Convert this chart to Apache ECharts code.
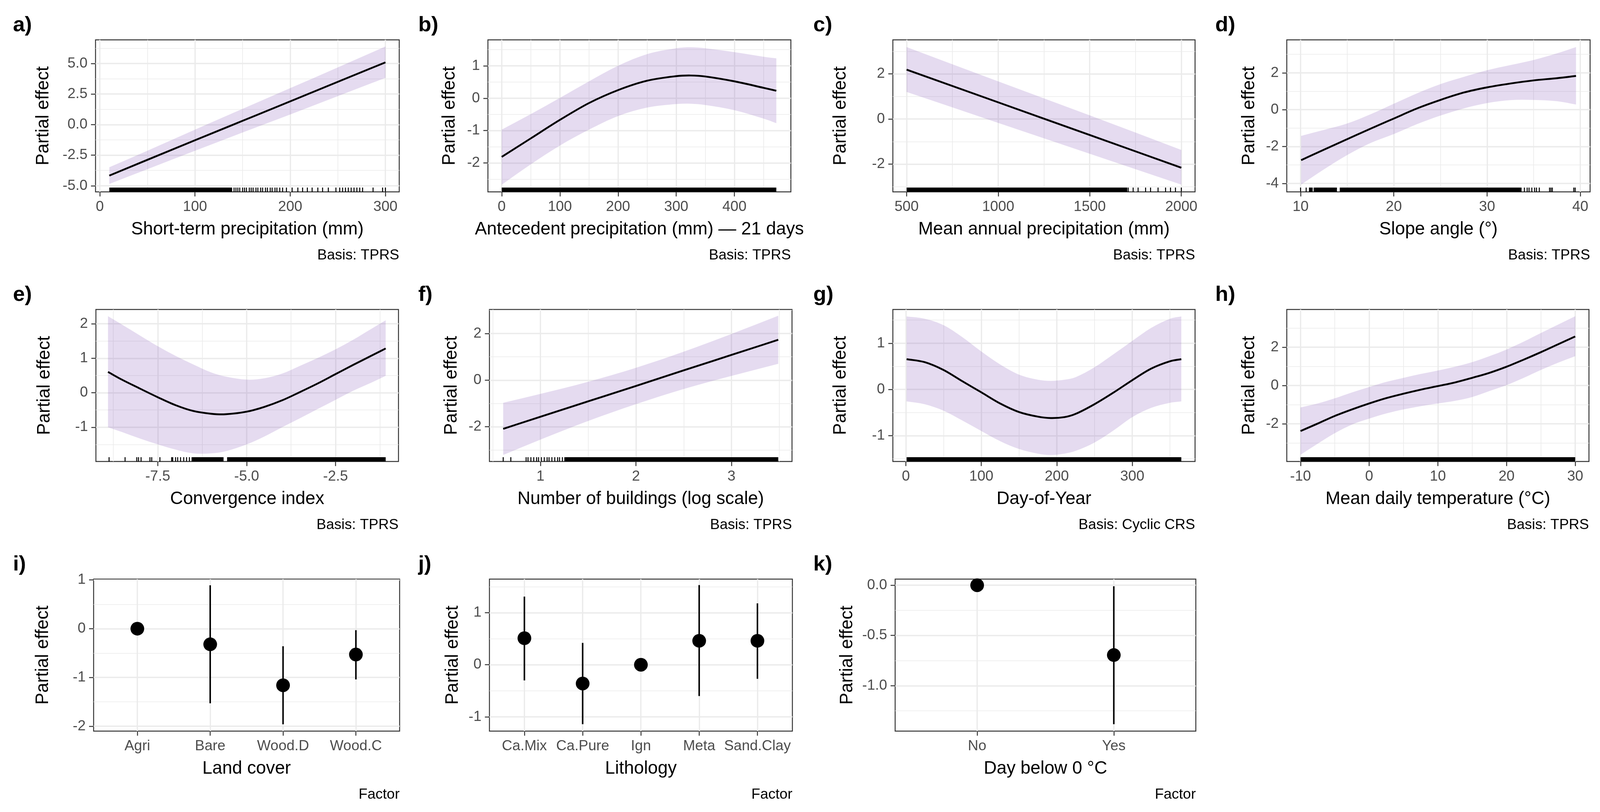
<!DOCTYPE html>
<html>
<head>
<meta charset="utf-8">
<script src="https://cdn.jsdelivr.net/npm/echarts@6/dist/echarts.min.js"></script>
<style>
  html, body { margin: 0; padding: 0; background: #fff; overflow: hidden; }
  #chart { width: 100vw; height: 100vh; }
</style>
</head>
<body>
<div id="chart"></div>
<script>
// ---- data ----
// a) short-term precipitation
const aX = [10, 50, 100, 150, 200, 250, 300];
const aFit = [-4.17, -2.88, -1.28, 0.31, 1.9, 3.5, 5.09];
const aLo = [-4.85, -3.65, -2.14, -0.64, 0.83, 2.33, 3.82];
const aHi = [-3.49, -2.14, -0.41, 1.29, 2.98, 4.68, 6.39];
const aRugSpans = [[10, 139]];
const aRugTicks = [141, 143, 145, 147, 150, 152, 154, 157, 159, 161, 164, 166, 169, 171, 174, 176, 179, 181, 184, 186, 189, 192,
  196, 202, 208, 213, 218, 223, 229, 234, 240, 248, 252, 255, 258, 261, 264, 267, 270, 273, 276, 287, 297, 300];

// b) antecedent precipitation
const bX = [0, 50, 100, 150, 200, 250, 300, 325, 350, 400, 450, 472];
const bFit = [-1.81, -1.24, -0.67, -0.15, 0.25, 0.54, 0.68, 0.7, 0.67, 0.52, 0.32, 0.23];
const bLo = [-2.67, -2.04, -1.46, -0.97, -0.55, -0.29, -0.18, -0.17, -0.21, -0.37, -0.63, -0.77];
const bHi = [-0.97, -0.49, 0.01, 0.52, 1.0, 1.36, 1.54, 1.57, 1.54, 1.42, 1.28, 1.23];
const bRugSpans = [[0, 472]];
const bRugTicks = [];

// c) mean annual precipitation
const cX = [500, 1000, 1500, 2000];
const cFit = [2.19, 0.74, -0.71, -2.16];
const cLo = [1.2, -0.17, -1.54, -2.91];
const cHi = [3.19, 1.67, 0.16, -1.37];
const cRugSpans = [[500, 1705]];
const cRugTicks = [1710, 1737, 1764, 1805, 1832, 1873, 1914, 1941, 1968, 2000];

// d) slope angle
const dX = [10.06, 12.5, 15, 17.5, 20, 22.5, 25, 27.5, 30, 32.5, 35, 37.5, 39.54];
const dFit = [-2.74, -2.17, -1.6, -1.03, -0.48, 0.07, 0.53, 0.93, 1.21, 1.42, 1.59, 1.71, 1.83];
const dLo = [-4.06, -3.24, -2.46, -1.81, -1.32, -0.78, -0.32, 0.07, 0.36, 0.52, 0.53, 0.46, 0.28];
const dHi = [-1.42, -1.1, -0.75, -0.25, 0.32, 0.89, 1.39, 1.78, 2.14, 2.42, 2.7, 3.06, 3.4];
const dRugSpans = [[10.9, 11.3], [11.4, 13.9], [14.2, 33.7]];
const dRugTicks = [10.0, 10.6, 34.0, 34.3, 34.5, 34.8, 35.1, 35.3, 35.6, 36.7, 36.85, 37.0, 39.3, 39.45];

// e) convergence index
const eX = [-8.9, -8.51, -8.0, -7.5, -7.0, -6.5, -6.0, -5.6, -5.0, -4.5, -4.0, -3.5, -3.0, -2.5, -2.0, -1.5, -1.09];
const eFit = [0.605, 0.38, 0.12, -0.13, -0.36, -0.53, -0.61, -0.625, -0.55, -0.41, -0.22, 0.02, 0.27, 0.54, 0.81, 1.07, 1.285];
const eLo = [-1.0, -1.14, -1.33, -1.5, -1.65, -1.76, -1.76, -1.7, -1.5, -1.27, -1.0, -0.74, -0.47, -0.205, 0.06, 0.29, 0.49];
const eHi = [2.22, 1.98, 1.66, 1.35, 1.07, 0.82, 0.59, 0.47, 0.38, 0.42, 0.555, 0.78, 1.01, 1.26, 1.54, 1.85, 2.1];
const eRugSpans = [[-6.55, -5.65], [-5.55, -1.09]];
const eRugTicks = [-8.87, -8.42, -8.09, -8.04, -7.97, -7.72, -7.67, -7.44, -7.11, -7.08, -7.0, -6.94, -6.86, -6.77, -6.69, -6.61];

// f) number of buildings
const fX = [0.61, 1.0, 1.5, 2.0, 2.5, 3.0, 3.49];
const fFit = [-2.09, -1.57, -0.91, -0.25, 0.42, 1.08, 1.73];
const fLo = [-3.21, -2.55, -1.75, -1.03, -0.38, 0.18, 0.7];
const fHi = [-0.97, -0.59, -0.07, 0.53, 1.22, 1.98, 2.76];
const fRugSpans = [[1.25, 3.49]];
const fRugTicks = [0.61, 0.69, 0.85, 0.87, 0.9, 0.93, 0.96, 0.98, 1.01, 1.04, 1.07, 1.09, 1.12, 1.15, 1.18, 1.2, 1.23];

// g) day of year
const gX = [1, 25, 50, 75, 100, 125, 150, 175, 192, 210, 225, 250, 275, 300, 325, 350, 365];
const gFit = [0.655, 0.59, 0.42, 0.175, -0.063, -0.305, -0.49, -0.59, -0.62, -0.6, -0.53, -0.32, -0.07, 0.2, 0.45, 0.61, 0.655];
const gLo = [-0.26, -0.32, -0.46, -0.675, -0.9, -1.12, -1.29, -1.39, -1.42, -1.39, -1.33, -1.15, -0.89, -0.6, -0.4, -0.29, -0.26];
const gHi = [1.58, 1.53, 1.39, 1.13, 0.82, 0.54, 0.32, 0.21, 0.185, 0.21, 0.265, 0.48, 0.76, 1.05, 1.33, 1.53, 1.58];
const gRugSpans = [[1, 365]];
const gRugTicks = [];

// h) mean daily temperature
const hX = [-10, -7.5, -5, -2.5, 0, 2.5, 5, 7.5, 10, 12.5, 15, 17.5, 20, 22.5, 25, 27.5, 30];
const hFit = [-2.38, -1.99, -1.59, -1.25, -0.94, -0.66, -0.43, -0.22, -0.03, 0.16, 0.4, 0.66, 0.98, 1.35, 1.74, 2.15, 2.56];
const hLo = [-3.62, -3.04, -2.49, -2.04, -1.73, -1.46, -1.25, -1.08, -0.94, -0.8, -0.6, -0.29, 0.02, 0.4, 0.81, 1.19, 1.53];
const hHi = [-1.15, -0.94, -0.67, -0.36, -0.08, 0.19, 0.4, 0.6, 0.78, 0.98, 1.22, 1.53, 1.88, 2.29, 2.74, 3.18, 3.62];
const hRugSpans = [[-10, 30]];
const hRugTicks = [];

// i) land cover, j) lithology, k) day below 0 °C
const iCats = ['Agri', 'Bare', 'Wood.D', 'Wood.C'];
const iEst = [0, -0.32, -1.16, -0.53];
const iLo = [0, -1.53, -1.96, -1.04];
const iHi = [0, 0.89, -0.36, -0.03];

const jCats = ['Ca.Mix', 'Ca.Pure', 'Ign', 'Meta', 'Sand.Clay'];
const jEst = [0.51, -0.36, 0, 0.46, 0.46];
const jLo = [-0.3, -1.14, 0, -0.6, -0.27];
const jHi = [1.31, 0.42, 0, 1.53, 1.18];

const kCats = ['No', 'Yes'];
const kEst = [0, -0.695];
const kLo = [0, -1.383];
const kHi = [0, -0.01];

// ---- styling ----
const FONT = '"Liberation Sans", Arial, Helvetica, sans-serif';
const GRID_COLOR = '#EBEBEB';
const BAND = 'rgba(125, 75, 180, 0.2)';
const oneDec = v => v.toFixed(1);
const plain = v => String(v);

const panels = [
  { tag: 'a)', box: [251, 102, 798, 389], yOff: 137, x: aX, fit: aFit, lo: aLo, hi: aHi, spans: aRugSpans, ticks: aRugTicks,
    xr: [-4.5, 314.5], yr: [-5.5, 6.93], xMaj: [0, 100, 200, 300], xMin: [50, 150, 250],
    yMaj: [-5, -2.5, 0, 2.5, 5], yMin: [-3.75, -1.25, 1.25, 3.75, 6.25], yFmt: oneDec,
    xName: 'Short-term precipitation (mm)', cap: 'Basis: TPRS' },
  { tag: 'b)', box: [1282, 102, 796, 389], yOff: 101, x: bX, fit: bFit, lo: bLo, hi: bHi, spans: bRugSpans, ticks: bRugTicks,
    xr: [-23.7, 497], yr: [-2.89, 1.8], xMaj: [0, 100, 200, 300, 400], xMin: [50, 150, 250, 350, 450],
    yMaj: [-2, -1, 0, 1], yMin: [-2.5, -1.5, -0.5, 0.5, 1.5],
    xName: 'Antecedent precipitation (mm) \u2014 21 days', cap: 'Basis: TPRS' },
  { tag: 'c)', box: [2346, 102, 794, 389], yOff: 137, x: cX, fit: cFit, lo: cLo, hi: cHi, spans: cRugSpans, ticks: cRugTicks,
    xr: [425, 2075], yr: [-3.23, 3.51], xMaj: [500, 1000, 1500, 2000], xMin: [750, 1250, 1750],
    yMaj: [-2, 0, 2], yMin: [-3, -1, 1, 3],
    xName: 'Mean annual precipitation (mm)', cap: 'Basis: TPRS' },
  { tag: 'd)', box: [3381, 102, 797, 389], yOff: 99, x: dX, fit: dFit, lo: dLo, hi: dHi, spans: dRugSpans, ticks: dRugTicks,
    xr: [8.52, 41.05], yr: [-4.46, 3.79], xMaj: [10, 20, 30, 40], xMin: [15, 25, 35],
    yMaj: [-4, -2, 0, 2], yMin: [-3, -1, 1, 3],
    xName: 'Slope angle (\u00b0)', cap: 'Basis: TPRS' },
  { tag: 'e)', box: [252, 792, 795, 389], yOff: 135, x: eX, fit: eFit, lo: eLo, hi: eHi, spans: eRugSpans, ticks: eRugTicks,
    xr: [-9.24, -0.73], yr: [-1.995, 2.416], xMaj: [-7.5, -5, -2.5], xMin: [-8.75, -6.25, -3.75, -1.25], xFmt: oneDec,
    yMaj: [-1, 0, 1, 2], yMin: [-1.5, -0.5, 0.5, 1.5],
    xName: 'Convergence index', cap: 'Basis: TPRS' },
  { tag: 'f)', box: [1286, 792, 795, 389], yOff: 100, x: fX, fit: fFit, lo: fLo, hi: fHi, spans: fRugSpans, ticks: fRugTicks,
    xr: [0.466, 3.634], yr: [-3.49, 3.03], xMaj: [1, 2, 3], xMin: [0.5, 1.5, 2.5, 3.5],
    yMaj: [-2, 0, 2], yMin: [-3, -1, 1, 3],
    xName: 'Number of buildings (log scale)', cap: 'Basis: TPRS' },
  { tag: 'g)', box: [2346, 792, 794, 389], yOff: 137, x: gX, fit: gFit, lo: gLo, hi: gHi, spans: gRugSpans, ticks: gRugTicks,
    xr: [-17.2, 383.2], yr: [-1.56, 1.73], xMaj: [0, 100, 200, 300], xMin: [50, 150, 250, 350],
    yMaj: [-1, 0, 1], yMin: [-1.5, -0.5, 0.5, 1.5],
    xName: 'Day-of-Year', cap: 'Basis: Cyclic CRS' },
  { tag: 'h)', box: [3381, 792, 794, 389], yOff: 99, x: hX, fit: hFit, lo: hLo, hi: hHi, spans: hRugSpans, ticks: hRugTicks,
    xr: [-12, 32], yr: [-3.97, 3.97], xMaj: [-10, 0, 10, 20, 30], xMin: [-5, 5, 15, 25],
    yMaj: [-2, 0, 2], yMin: [-3, -1, 1, 3],
    xName: 'Mean daily temperature (\u00b0C)', cap: 'Basis: TPRS' },
  { tag: 'i)', box: [246, 1482, 804, 389], yOff: 133, cats: iCats, est: iEst, lo: iLo, hi: iHi,
    yr: [-2.1, 1.017], yMaj: [-2, -1, 0, 1], yMin: [-1.5, -0.5, 0.5],
    xName: 'Land cover', cap: 'Factor' },
  { tag: 'j)', box: [1286, 1482, 796, 389], yOff: 96, cats: jCats, est: jEst, lo: jLo, hi: jHi,
    yr: [-1.274, 1.645], yMaj: [-1, 0, 1], yMin: [-0.5, 0.5, 1.5],
    xName: 'Lithology', cap: 'Factor' },
  { tag: 'k)', box: [2352, 1482, 790, 389], yOff: 126, cats: kCats, est: kEst, lo: kLo, hi: kHi,
    yr: [-1.452, 0.061], yMaj: [-1, -0.5, 0], yMin: [-1.25, -0.75, -0.25], yFmt: oneDec,
    xName: 'Day below 0 \u00b0C', cap: 'Factor' }
];

const tagX = [34, 1099, 2137, 3193];

const el = document.getElementById('chart');
const chart = echarts.init(el, null, { renderer: 'canvas' });
// layout numbers above are in reference pixels (4204 x 2078); scale to the real viewport
const sx = chart.getWidth() / 4204;
const sy = chart.getHeight() / 2078;
const sf = Math.min(sx, sy);

// cubic Hermite path through pixel points, tangents from neighbouring secants
function curveTo(pts, start) {
  const n = pts.length;
  const m = pts.map((p, i) => {
    const a = pts[Math.max(i - 1, 0)], b = pts[Math.min(i + 1, n - 1)];
    return (b[1] - a[1]) / (b[0] - a[0]);
  });
  let d = (start ? 'M' : 'L') + pts[0][0] + ',' + pts[0][1];
  for (let i = 0; i < n - 1; i++) {
    const p1 = pts[i], p2 = pts[i + 1], dx = (p2[0] - p1[0]) / 3;
    d += 'C' + (p1[0] + dx) + ',' + (p1[1] + m[i] * dx) + ',' +
      (p2[0] - dx) + ',' + (p2[1] - m[i + 1] * dx) + ',' + p2[0] + ',' + p2[1];
  }
  return d;
}

// band + fit curve, drawn once per series from all of its rows [x, lo, hi, fit]
function renderSmooth(params, api) {
  if (params.dataIndexInside !== 0) return null;
  const n = params.dataInsideLength;
  const up = [], low = [], mid = [];
  for (let j = 0; j < n; j++) {
    const x = api.value(0, j);
    low.push(api.coord([x, api.value(1, j)]));
    up.push(api.coord([x, api.value(2, j)]));
    mid.push(api.coord([x, api.value(3, j)]));
  }
  const band = curveTo(up, true) + curveTo(low.slice().reverse(), false) + 'Z';
  return {
    type: 'group',
    children: [
      { type: 'path', shape: { pathData: band }, style: { fill: BAND, stroke: null } },
      { type: 'path', shape: { pathData: curveTo(mid, true) },
        style: { fill: null, stroke: '#000', lineWidth: 4.8 * sf, lineJoin: 'round' } }
    ]
  };
}

function renderRug(params, api) {
  const cs = params.coordSys;
  const a = api.coord([api.value(0), 0])[0];
  const b = api.coord([api.value(1), 0])[0];
  const w = Math.max(b - a, 2.6 * sf);
  const h = 11 * sy;
  return {
    type: 'rect',
    shape: { x: b > a ? a : a - w / 2, y: cs.y + cs.height - h, width: w, height: h },
    style: { fill: '#000' }
  };
}

function renderErr(params, api) {
  const p0 = api.coord([api.value(0), api.value(1)]);
  const p1 = api.coord([api.value(0), api.value(2)]);
  return {
    type: 'line',
    shape: { x1: p0[0], y1: p0[1], x2: p1[0], y2: p1[1] },
    style: { stroke: '#000', lineWidth: 4 * sf }
  };
}

const grid = [], xAxis = [], yAxis = [], series = [], graphic = [];

panels.forEach((p, gi) => {
  const left = p.box[0] * sx, top = p.box[1] * sy, width = p.box[2] * sx, height = p.box[3] * sy;
  grid.push({ left, top, width, height, show: true, borderColor: '#333333', borderWidth: 2.5 * sf,
    backgroundColor: 'transparent', containLabel: false });

  const isCat = !!p.cats;
  const xr = isCat ? [0.4, p.cats.length + 0.6] : p.xr;
  const xMaj = isCat ? p.cats.map((c, i) => i + 1) : p.xMaj;
  const xFmt = isCat ? (v => p.cats[Math.round(v) - 1]) : (p.xFmt || plain);

  const tick = { show: true, length: 12 * sf, lineStyle: { color: '#333333', width: 2.5 * sf } };
  const label = { margin: 21 * sf, color: '#4D4D4D', fontSize: 38 * sf, fontFamily: FONT };
  const nameStyle = { fontSize: 47 * sf, color: '#000', fontFamily: FONT };
  const major = { show: true, lineStyle: { color: GRID_COLOR, width: 3.4 * sf } };
  const minor = { show: true, lineStyle: { color: GRID_COLOR, width: 1.7 * sf } };

  xAxis.push({
    type: 'value', gridIndex: gi, min: xr[0], max: xr[1], position: 'bottom',
    axisLine: { show: false, onZero: false },
    axisTick: Object.assign({ customValues: xMaj }, tick),
    axisLabel: Object.assign({ customValues: xMaj, formatter: xFmt }, label),
    splitLine: major,
    name: p.xName, nameLocation: 'middle', nameGap: 73 * sy, nameTextStyle: nameStyle
  });
  xAxis.push({
    type: 'value', gridIndex: gi, min: xr[0], max: xr[1], position: 'bottom',
    axisLine: { show: false, onZero: false },
    axisTick: { show: false, customValues: isCat ? [] : p.xMin },
    axisLabel: { show: false },
    splitLine: Object.assign({}, minor, { show: !isCat })
  });
  yAxis.push({
    type: 'value', gridIndex: gi, min: p.yr[0], max: p.yr[1], position: 'left',
    axisLine: { show: false, onZero: false },
    axisTick: Object.assign({ customValues: p.yMaj }, tick),
    axisLabel: Object.assign({ customValues: p.yMaj, formatter: p.yFmt || plain }, label),
    splitLine: major,
    name: 'Partial effect', nameLocation: 'middle', nameRotate: 90, nameGap: (p.yOff - 24) * sx,
    nameTextStyle: nameStyle
  });
  yAxis.push({
    type: 'value', gridIndex: gi, min: p.yr[0], max: p.yr[1], position: 'left',
    axisLine: { show: false, onZero: false },
    axisTick: { show: false, customValues: p.yMin },
    axisLabel: { show: false },
    splitLine: minor
  });

  const xi = 2 * gi, yi = 2 * gi;
  if (!isCat) {
    series.push({
      type: 'custom', xAxisIndex: xi, yAxisIndex: yi, renderItem: renderSmooth, silent: true, z: 3,
      data: p.x.map((x, i) => [x, p.lo[i], p.hi[i], p.fit[i]])
    });
    series.push({
      type: 'custom', xAxisIndex: xi, yAxisIndex: yi, renderItem: renderRug, silent: true, z: 5,
      data: p.spans.concat(p.ticks.map(t => [t, t]))
    });
  } else {
    series.push({
      type: 'custom', xAxisIndex: xi, yAxisIndex: yi, renderItem: renderErr, silent: true, z: 3,
      data: p.cats.map((c, i) => [i + 1, p.lo[i], p.hi[i]])
    });
    series.push({
      type: 'scatter', xAxisIndex: xi, yAxisIndex: yi, symbol: 'circle', symbolSize: 36 * sf,
      itemStyle: { color: '#000', opacity: 1 }, silent: true, z: 4,
      data: p.cats.map((c, i) => [i + 1, p.est[i]])
    });
  }

  graphic.push({
    type: 'text', x: tagX[gi % 4] * sx, y: (p.box[1] - 37) * sy,
    style: { text: p.tag, font: 'bold ' + (56 * sf) + 'px ' + FONT, fill: '#000',
      align: 'left', textAlign: 'left', verticalAlign: 'middle', textVerticalAlign: 'middle' }
  });
  graphic.push({
    type: 'text', x: left + width, y: (p.box[1] + p.box[3] + 163) * sy,
    style: { text: p.cap, font: (38 * sf) + 'px ' + FONT, fill: '#000',
      align: 'right', textAlign: 'right', verticalAlign: 'middle', textVerticalAlign: 'middle' }
  });
});

chart.setOption({
  backgroundColor: '#fff',
  animation: false,
  grid, xAxis, yAxis, series, graphic
});
</script>
</body>
</html>
